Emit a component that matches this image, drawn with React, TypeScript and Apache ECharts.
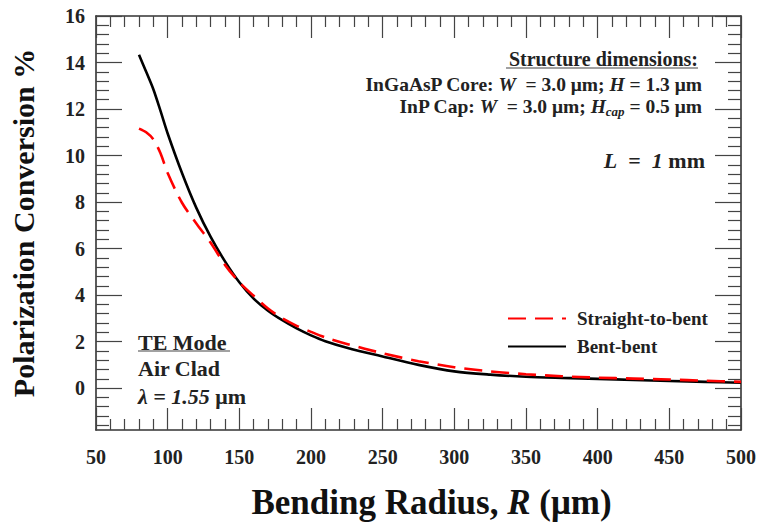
import React, { useEffect, useRef } from 'react';
import * as echarts from 'echarts';

// Bending radius R (µm)
const radius = [80, 85, 90, 95, 100, 110, 120, 130, 140, 150, 160, 170, 180, 190, 200, 210, 225, 250, 275, 300, 325, 350, 375, 400, 425, 450, 475, 500];
// Polarization conversion (%)
const straightToBent = [11.16, 11.0, 10.7, 10.1, 9.25, 7.97, 7.08, 6.25, 5.3, 4.55, 3.97, 3.42, 3.0, 2.68, 2.42, 2.18, 1.9, 1.5, 1.16, 0.9, 0.72, 0.6, 0.51, 0.45, 0.41, 0.37, 0.32, 0.27];
const bentBent = [14.33, 13.6, 12.85, 11.92, 10.95, 9.25, 7.75, 6.5, 5.45, 4.55, 3.85, 3.33, 2.92, 2.57, 2.27, 2.02, 1.74, 1.36, 1.0, 0.72, 0.58, 0.49, 0.44, 0.4, 0.35, 0.31, 0.27, 0.23];

const yMajorTicks = [0, 2, 4, 6, 8, 10, 12, 14, 16];
const yMinorTicks: number[] = [];
for (let i = -4; i <= 39; i++) {
  const v = Math.round(i * 4) / 10;
  if (Math.abs(v % 2) > 1e-9) yMinorTicks.push(v);
}

const FONT = '"Liberation Serif", "Times New Roman", serif';
const AX = '#333';

export default function App() {
  const ref = useRef<HTMLDivElement>(null);
  useEffect(() => {
    if (!ref.current) return;
    const chart = echarts.init(ref.current, null, { renderer: 'svg' });
    const xBase = (pos: 'top' | 'bottom', labels: boolean) => ({
      type: 'value',
      position: pos,
      min: 50,
      max: 500,
      interval: 50,
      axisLine: { show: true, onZero: false, lineStyle: { color: AX, width: 1.6 } },
      axisTick: { show: true, inside: true, length: 22, lineStyle: { color: '#444', width: 1.2 } },
      minorTick: { show: true, splitNumber: 5, length: 11, lineStyle: { color: '#444', width: 1.2 } },
      axisLabel: { show: labels, margin: 17, fontFamily: FONT, fontWeight: 'bold', fontSize: 20, color: '#222' },
      splitLine: { show: false },
    });
    const yBase = (pos: 'left' | 'right', ticks: number[], len: number, line: boolean, labels: boolean) => ({
      type: 'value',
      position: pos,
      min: -1.8,
      max: 16,
      axisLine: { show: line, onZero: false, lineStyle: { color: AX, width: 1.6 } },
      axisTick: { show: true, inside: true, length: len, customValues: ticks, lineStyle: { color: '#444', width: 1.2 } },
      axisLabel: { show: labels, customValues: yMajorTicks, margin: 11, fontFamily: FONT, fontWeight: 'bold', fontSize: 20, color: '#222' },
      splitLine: { show: false },
    });
    const b = (size: number) => ({ fontFamily: FONT, fontWeight: 'bold', fontSize: size, fill: '#222' });
    const bi = (size: number) => ({ fontFamily: FONT, fontWeight: 'bold', fontStyle: 'italic', fontSize: size, fill: '#222' });
    chart.setOption({
      animation: false,
      backgroundColor: '#fff',
      grid: { left: 96, right: 16, top: 16, bottom: 92 },
      xAxis: [
        {
          ...xBase('bottom', true),
          name: '{b|Bending Radius, }{i|R}{b| (μm)}',
          nameLocation: 'middle',
          nameGap: 55,
          nameTextStyle: {
            padding: [0, 0, 0, 26],
            rich: {
              b: { fontFamily: FONT, fontWeight: 'bold', fontSize: 35, color: '#111' },
              i: { fontFamily: FONT, fontWeight: 'bold', fontStyle: 'italic', fontSize: 35, color: '#111' },
            },
          },
        },
        xBase('top', false),
      ],
      yAxis: [
        {
          ...yBase('left', yMajorTicks, 26, true, true),
          name: 'Polarization Conversion %',
          nameLocation: 'middle',
          nameGap: 58,
          nameTextStyle: { fontFamily: FONT, fontWeight: 'bold', fontSize: 30, color: '#111' },
        },
        yBase('left', yMinorTicks, 13, false, false),
        yBase('right', yMajorTicks, 26, true, false),
        yBase('right', yMinorTicks, 13, false, false),
      ],
      legend: {
        show: true,
        orient: 'vertical',
        left: 502,
        top: 304,
        itemWidth: 58,
        itemHeight: 14,
        itemGap: 9,
        data: ['Straight-to-bent', 'Bent-bent'],
        itemStyle: { opacity: 0, color: 'rgba(0,0,0,0)', borderWidth: 0 },
        textStyle: { fontFamily: FONT, fontWeight: 'bold', fontSize: 19, color: '#222', padding: [0, 0, 0, 6] },
      },
      series: [
        {
          name: 'Bent-bent',
          type: 'line',
          xAxisIndex: 0,
          yAxisIndex: 0,
          smooth: 0.3,
          symbol: 'none',
          data: radius.map((r, i) => [r, bentBent[i]]),
          lineStyle: { color: '#000', width: 2.6 },
          itemStyle: { color: '#000' },
        },
        {
          name: 'Straight-to-bent',
          type: 'line',
          xAxisIndex: 0,
          yAxisIndex: 0,
          smooth: 0.3,
          symbol: 'none',
          data: radius.map((r, i) => [r, straightToBent[i]]),
          lineStyle: { color: '#f00', width: 2.6, type: [18, 9] },
          itemStyle: { color: '#f00' },
        },
      ],
      graphic: [
        {
          type: 'text',
          x: 698,
          y: 59,
          style: { text: 'Structure dimensions:', align: 'right', verticalAlign: 'middle', font: `bold 20px ${FONT}`, fill: '#222' },
        },
        { type: 'line', shape: { x1: 506, y1: 68, x2: 698, y2: 68 }, style: { stroke: '#444', lineWidth: 1.2 } },
        {
          type: 'text',
          x: 702,
          y: 84,
          style: {
            text: '{b|InGaAsP Core: }{i|W}{b|  = 3.0 μm; }{i|H}{b| = 1.3 μm}',
            align: 'right',
            verticalAlign: 'middle',
            rich: { b: { ...b(19.5), lineHeight: 24 }, i: { ...bi(19.5), lineHeight: 24 } },
          },
        },
        {
          type: 'text',
          x: 702,
          y: 106,
          style: {
            text: '{b|InP Cap: }{i|W}{b|  = 3.0 μm; }{i|H}{s|cap}{b| = 0.5 μm}',
            align: 'right',
            verticalAlign: 'middle',
            rich: {
              b: { ...b(19.5), lineHeight: 24 },
              i: { ...bi(19.5), lineHeight: 24 },
              s: { ...bi(13), lineHeight: 12, verticalAlign: 'bottom' },
            },
          },
        },
        {
          type: 'text',
          x: 705,
          y: 160,
          style: {
            text: '{i|L}{b|  =  }{i|1}{b| mm}',
            align: 'right',
            verticalAlign: 'middle',
            rich: { b: b(22), i: bi(22) },
          },
        },
        {
          type: 'text',
          x: 138,
          y: 342,
          style: { text: 'TE Mode', align: 'left', verticalAlign: 'middle', font: `bold 22px ${FONT}`, fill: '#222' },
        },
        { type: 'line', shape: { x1: 138, y1: 351, x2: 230, y2: 351 }, style: { stroke: '#444', lineWidth: 1.2 } },
        {
          type: 'text',
          x: 138,
          y: 368,
          style: { text: 'Air Clad', align: 'left', verticalAlign: 'middle', font: `bold 22px ${FONT}`, fill: '#222' },
        },
        {
          type: 'text',
          x: 138,
          y: 396,
          style: {
            text: '{i|λ = 1.55}{b| μm}',
            align: 'left',
            verticalAlign: 'middle',
            rich: { b: b(22), i: bi(22) },
          },
        },
      ],
    });
    return () => chart.dispose();
  }, []);
  return <div ref={ref} style={{ position: 'absolute', left: 0, top: 0, width: 759, height: 525 }} />;
}
